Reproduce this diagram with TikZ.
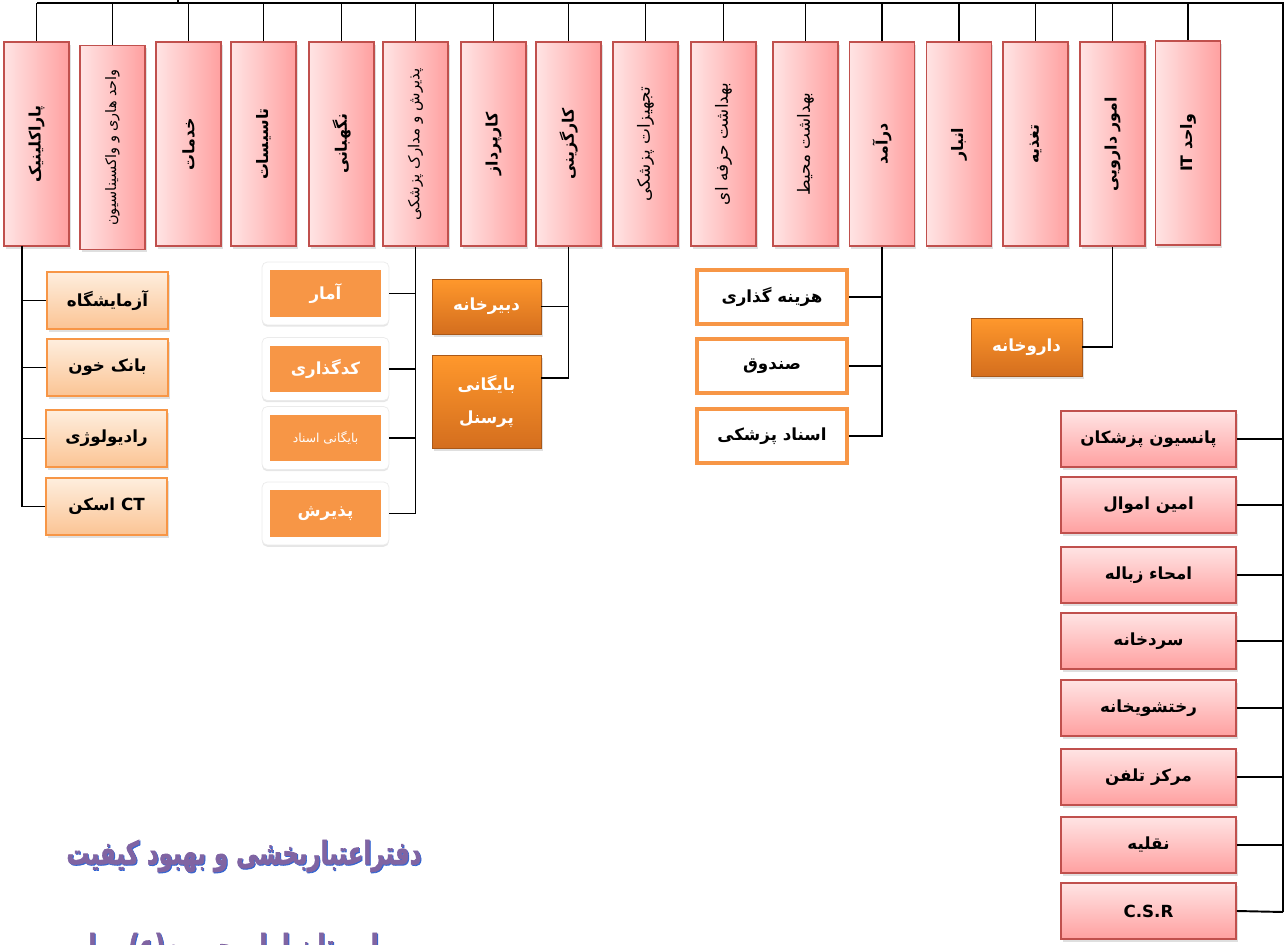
\documentclass[tikz,border=0pt]{standalone}
\usepackage{fontspec}
\newfontfamily\farsi[Script=Arabic]{DejaVu Sans}
\newfontfamily\farsiheavy[Script=Arabic,FakeBold=2.5]{DejaVu Sans Bold}
\TeXXeTstate=1
\usetikzlibrary{positioning,shadows}
\definecolor{boxred}{RGB}{192,80,77}
\definecolor{pinklight}{RGB}{255,228,228}
\definecolor{pinkdark}{RGB}{255,160,160}
\definecolor{peachtop}{RGB}{254,238,222}
\definecolor{peachbot}{RGB}{251,196,148}
\definecolor{accorange}{RGB}{247,150,70}
\definecolor{deeporange}{RGB}{255,152,44}
\definecolor{burntorange}{RGB}{212,110,30}
\definecolor{titlepurple}{RGB}{128,100,162}
\definecolor{titleblue}{RGB}{50,100,210}
\newcommand{\fa}[1]{{\farsi\beginR #1\endR}}
\newcommand{\faheavy}[1]{\scalebox{1}[1.4]{\farsiheavy\beginR #1\endR}}
\tikzset{conn/.style={line width=1.1pt}}
\tikzset{softshadow/.style={drop shadow={shadow xshift=1pt, shadow yshift=-1.5pt, opacity=0.25}}}
\tikzset{unitbox/.style={draw=boxred, line width=0.9pt, left color=pinklight, right color=pinkdark,
    minimum width=1.3cm, minimum height=4.08cm, inner sep=0pt, softshadow,
    font=\bfseries\fontsize{9}{11}\selectfont}}
\tikzset{labbox/.style={draw=accorange, line width=0.9pt, top color=peachtop, bottom color=peachbot,
    minimum width=2.42cm, minimum height=1.14cm, inner sep=0pt, softshadow,
    font=\bfseries\fontsize{9.5}{11}\selectfont}}
\tikzset{framebox/.style={fill=white, draw=black!8, rounded corners=3pt,
    minimum width=2.54cm, minimum height=1.26cm, inner sep=0pt,
    drop shadow={shadow xshift=0pt, shadow yshift=-1pt, opacity=0.2}}}
\tikzset{fillbox/.style={fill=accorange, minimum width=2.24cm, minimum height=0.94cm, inner sep=0pt,
    text=white, font=\bfseries\fontsize{9.5}{11}\selectfont}}
\tikzset{bevelbox/.style={top color=deeporange, bottom color=burntorange, draw=burntorange!80!black,
    line width=0.4pt, minimum width=2.18cm, inner sep=0pt, softshadow, align=center,
    text=white, font=\bfseries\fontsize{9.5}{19}\selectfont}}
\tikzset{ringbox/.style={draw=accorange, line width=2.3pt, fill=white,
    minimum width=3.0cm, minimum height=1.08cm, inner sep=0pt,
    font=\bfseries\fontsize{9.5}{11}\selectfont}}
\tikzset{servbox/.style={draw=boxred, line width=0.9pt, top color=pinklight, bottom color=pinkdark,
    minimum width=3.5cm, minimum height=1.12cm, inner sep=0pt, softshadow,
    font=\bfseries\fontsize{9.5}{11}\selectfont}}
\tikzset{titletext/.style={inner sep=0pt, font=\fontsize{13}{15}\selectfont}}

\begin{document}
\begin{tikzpicture}[x=0.02cm,y=-0.02cm]
  \useasboundingbox (0,0) rectangle (1288,945);
  \coordinate (root) at (178,-2);
  \coordinate (topL) at (37,3);
  \coordinate (topR) at (1283,3);
  \coordinate (botR) at (1283,912);

  % units along the top
  \node[unitbox] (parakl) at (36.5,144) {\rotatebox{90}{\fa{پاراکلینیک}}};
  \node[unitbox, font=\fontsize{8.2}{9}\selectfont] (vaccin) at (112.5,147.5) {\rotatebox{90}{\fa{واحد هاری و واکسیناسیون}}};
  \node[unitbox] (khadamat) at (188.5,144) {\rotatebox{90}{\fa{خدمات}}};
  \node[unitbox] (tasisat) at (263.5,144) {\rotatebox{90}{\fa{تاسیسات}}};
  \node[unitbox] (negahbani) at (341.5,144) {\rotatebox{90}{\fa{نگهبانی}}};
  \node[unitbox, font=\fontsize{8.6}{9}\selectfont] (paziresh) at (415.5,144) {\rotatebox{90}{\fa{پذیرش و مدارک پزشکی}}};
  \node[unitbox] (karpardaz) at (493.5,144) {\rotatebox{90}{\fa{کارپرداز}}};
  \node[unitbox] (kargozini) at (568.5,144) {\rotatebox{90}{\fa{کارگزینی}}};
  \node[unitbox, font=\fontsize{9.6}{10}\selectfont] (tajhizat) at (645.5,144) {\rotatebox{90}{\fa{تجهیزات پزشکی}}};
  \node[unitbox, font=\fontsize{9.6}{10}\selectfont] (herfei) at (723.5,144) {\rotatebox{90}{\fa{بهداشت حرفه ای}}};
  \node[unitbox, font=\fontsize{9.6}{10}\selectfont] (mohit) at (805.5,144) {\rotatebox{90}{\fa{بهداشت محیط}}};
  \node[unitbox] (daramad) at (882,144) {\rotatebox{90}{\fa{درآمد}}};
  \node[unitbox] (anbar) at (959,144) {\rotatebox{90}{\fa{انبار}}};
  \node[unitbox] (taghzie) at (1035.5,144) {\rotatebox{90}{\fa{تغذیه}}};
  \node[unitbox] (darooei) at (1112.5,144) {\rotatebox{90}{\fa{امور دارویی}}};
  \node[unitbox] (it) at (1188,143) {\rotatebox{90}{\fa{واحد \beginL IT\endL}}};

  % top bus
  \draw[conn] (topL) -- (topR) -- (botR);
  \draw[conn] (root) -- (root |- topL);
  \draw[conn] (parakl.north) -- (parakl.north |- topL);
  \draw[conn] (vaccin.north) -- (vaccin.north |- topL);
  \draw[conn] (khadamat.north) -- (khadamat.north |- topL);
  \draw[conn] (tasisat.north) -- (tasisat.north |- topL);
  \draw[conn] (negahbani.north) -- (negahbani.north |- topL);
  \draw[conn] (paziresh.north) -- (paziresh.north |- topL);
  \draw[conn] (karpardaz.north) -- (karpardaz.north |- topL);
  \draw[conn] (kargozini.north) -- (kargozini.north |- topL);
  \draw[conn] (tajhizat.north) -- (tajhizat.north |- topL);
  \draw[conn] (herfei.north) -- (herfei.north |- topL);
  \draw[conn] (mohit.north) -- (mohit.north |- topL);
  \draw[conn] (daramad.north) -- (daramad.north |- topL);
  \draw[conn] (anbar.north) -- (anbar.north |- topL);
  \draw[conn] (taghzie.north) -- (taghzie.north |- topL);
  \draw[conn] (darooei.north) -- (darooei.north |- topL);
  \draw[conn] (it.north) -- (it.north |- topL);

  % paraclinic
  \coordinate (pkbus) at (22,246);
  \node[labbox] (azmayesh) at (107.5,300.5) {\fa{آزمایشگاه}};
  \node[labbox] (khoon) at (107.5,367.5) {\fa{بانک خون}};
  \node[labbox] (radio) at (106.5,438.5) {\fa{رادیولوژی}};
  \node[labbox] (ctscan) at (106.5,506.5) {\fa{\beginL CT\endL{} اسکن}};
  \draw[conn] (pkbus) |- (ctscan.west);
  \draw[conn] (azmayesh.west) -- (azmayesh.west -| pkbus);
  \draw[conn] (khoon.west) -- (khoon.west -| pkbus);
  \draw[conn] (radio.west) -- (radio.west -| pkbus);

  % admission and records
  \node[framebox] (amar) at (325.5,293.5) {};
  \node[fillbox] (amar-in) at (amar) {\fa{آمار}};
  \node[framebox] (coding) at (325.5,369) {};
  \node[fillbox] (coding-in) at (coding) {\fa{کدگذاری}};
  \node[framebox] (archive) at (325.5,438) {};
  \node[fillbox, font=\fontsize{7}{8}\selectfont] (archive-in) at (archive) {\fa{بایگانی اسناد}};
  \node[framebox] (reception) at (325.5,513.5) {};
  \node[fillbox] (reception-in) at (reception) {\fa{پذیرش}};
  \draw[conn] (paziresh.south) |- (reception.east);
  \draw[conn] (amar.east) -- (amar.east -| paziresh.south);
  \draw[conn] (coding.east) -- (coding.east -| paziresh.south);
  \draw[conn] (archive.east) -- (archive.east -| paziresh.south);

  % personnel
  \node[bevelbox, minimum height=1.1cm] (dabir) at (486.5,306.5) {\fa{دبیرخانه}};
  \node[bevelbox, minimum height=1.86cm] (personel) at (486.5,401.5) {\fa{بایگانی}\\\fa{پرسنل}};
  \draw[conn] (kargozini.south) |- ([yshift=0.47cm]personel.east);
  \draw[conn] (dabir.east) -- (dabir.east -| kargozini.south);

  % income
  \node[ringbox] (hazine) at (772,297) {\fa{هزینه گذاری}};
  \node[ringbox] (sandogh) at (772,366) {\fa{صندوق}};
  \node[ringbox] (asnad) at (772,436) {\fa{اسناد پزشکی}};
  \draw[conn] (daramad.south) |- (asnad.east);
  \draw[conn] (hazine.east) -- (hazine.east -| daramad.south);
  \draw[conn] (sandogh.east) -- (sandogh.east -| daramad.south);

  % pharmacy
  \node[bevelbox, minimum width=2.22cm, minimum height=1.16cm] (darookhane) at (1026.5,347) {\fa{داروخانه}};
  \draw[conn] (darooei.south) |- (darookhane.east);

  % right column
  \node[servbox] (pansion) at (1148.5,439) {\fa{پانسیون پزشکان}};
  \node[servbox] (amval) at (1148.5,505) {\fa{امین اموال}};
  \node[servbox] (zobale) at (1148.5,575) {\fa{امحاء زباله}};
  \node[servbox] (sardkhane) at (1148.5,641) {\fa{سردخانه}};
  \node[servbox] (rakhtshoo) at (1148.5,708) {\fa{رختشویخانه}};
  \node[servbox] (telefon) at (1148.5,777) {\fa{مرکز تلفن}};
  \node[servbox] (naghlie) at (1148.5,845) {\fa{نقلیه}};
  \node[servbox] (csr) at (1148.5,911) {{\farsi C.S.R}};
  \draw[conn] (pansion.east) -- (pansion.east -| botR);
  \draw[conn] (amval.east) -- (amval.east -| botR);
  \draw[conn] (zobale.east) -- (zobale.east -| botR);
  \draw[conn] (sardkhane.east) -- (sardkhane.east -| botR);
  \draw[conn] (rakhtshoo.east) -- (rakhtshoo.east -| botR);
  \draw[conn] (telefon.east) -- (telefon.east -| botR);
  \draw[conn] (naghlie.east) -- (naghlie.east -| botR);
  \draw[conn] (csr.east) -- (botR);

  % title
  \node[titletext, text=titleblue] (title-sh) at (245,857) {\faheavy{دفتراعتباربخشی و بهبود کیفیت}};
  \node[titletext, text=titlepurple] (title) at (244,856) {\faheavy{دفتراعتباربخشی و بهبود کیفیت}};
  \node[titletext, text=titleblue] (hosp-sh) at (245,950) {\faheavy{بیمارستان امام حسین(ع) بهار}};
  \node[titletext, text=titlepurple] (hosp) at (244,949) {\faheavy{بیمارستان امام حسین(ع) بهار}};
\end{tikzpicture}
\end{document}
